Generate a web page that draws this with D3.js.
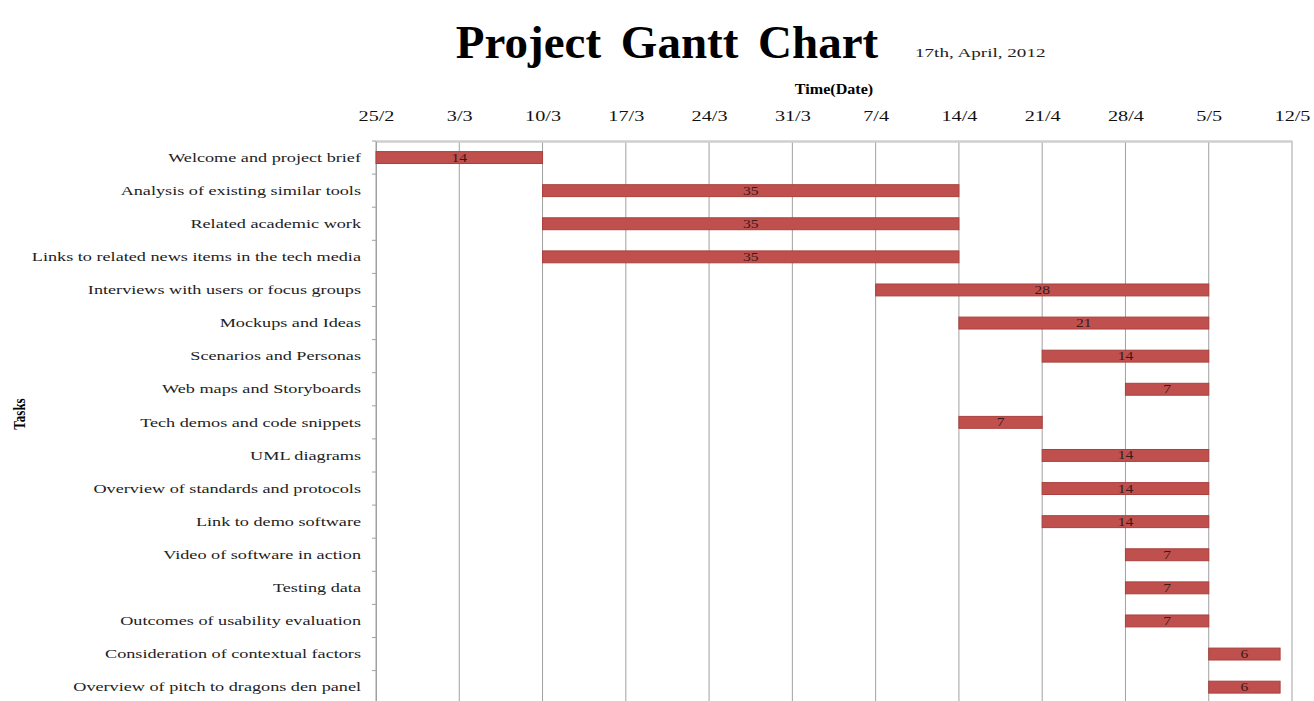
<!DOCTYPE html>
<html>
<head>
<meta charset="utf-8">
<script src="https://cdn.jsdelivr.net/npm/d3@7"></script>
<style>
  body { margin: 0; background: #fff; }
  svg { display: block; font-family: "Liberation Serif", "Times New Roman", serif; }
</style>
</head>
<body>
<div id="area"></div>
<script>
var tasks = [
  "Welcome and project brief",
  "Analysis of existing similar tools",
  "Related academic work",
  "Links to related news items in the tech media",
  "Interviews with users or focus groups",
  "Mockups and Ideas",
  "Scenarios and Personas",
  "Web maps and Storyboards",
  "Tech demos and code snippets",
  "UML diagrams",
  "Overview of standards and protocols",
  "Link to demo software",
  "Video of software in action",
  "Testing data",
  "Outcomes of usability evaluation",
  "Consideration of contextual factors",
  "Overview of pitch to dragons den panel"
];
var startDates = [
  "2012-02-25", "2012-03-10", "2012-03-10", "2012-03-10", "2012-04-07",
  "2012-04-14", "2012-04-21", "2012-04-28", "2012-04-14", "2012-04-21",
  "2012-04-21", "2012-04-21", "2012-04-28", "2012-04-28", "2012-04-28",
  "2012-05-05", "2012-05-05"
];
var durations = [14, 35, 35, 35, 28, 21, 14, 7, 7, 14, 14, 14, 7, 7, 7, 6, 6];
var tickDates = [
  "2012-02-25", "2012-03-03", "2012-03-10", "2012-03-17", "2012-03-24", "2012-03-31",
  "2012-04-07", "2012-04-14", "2012-04-21", "2012-04-28", "2012-05-05", "2012-05-12"
];

var width = 1314, height = 701;
var plotLeft = 376, plotRight = 1292, plotTop = 141, rowStep = 33.1;
var stretch = 1.4; // the original glyphs are drawn wide
var parse = d3.utcParse("%Y-%m-%d");
var fmt = d3.utcFormat("%-d/%-m");
var DAY = 86400000;

var rows = tasks.map(function (t, i) {
  var s = parse(startDates[i]);
  return { task: t, start: s, end: new Date(s.getTime() + durations[i] * DAY), dur: durations[i] };
});
var ticks = tickDates.map(parse);

var x = d3.scaleUtc()
  .domain([ticks[0], ticks[ticks.length - 1]])
  .range([plotLeft, plotRight]);
var y = d3.scaleBand()
  .domain(tasks)
  .range([plotTop, plotTop + tasks.length * rowStep])
  .paddingInner(0.64)
  .paddingOuter(0.32);

var svg = d3.select("#area").append("svg")
  .attr("width", width)
  .attr("height", height);

// title
svg.append("text")
  .attr("x", 667).attr("y", 58)
  .attr("text-anchor", "middle")
  .style("font-size", "47px").style("font-weight", "bold")
  .style("word-spacing", "8px")
  .text("Project Gantt Chart");
svg.append("text")
  .attr("transform", "translate(915,57) scale(1.47,1)")
  .style("font-size", "13px")
  .attr("fill", "#222")
  .text("17th, April, 2012");

svg.append("text")
  .attr("transform", "translate(" + (plotLeft + plotRight) / 2 + ",94) scale(1.15,1)")
  .attr("text-anchor", "middle")
  .style("font-size", "14px").style("font-weight", "bold")
  .text("Time(Date)");

svg.append("text")
  .attr("transform", "translate(25,414) rotate(-90) scale(1,1.35)")
  .attr("text-anchor", "middle")
  .style("font-size", "13px").style("font-weight", "bold")
  .text("Tasks");

// vertical grid
svg.append("g")
  .selectAll("line")
  .data(ticks)
  .enter().append("line")
  .attr("x1", function (d) { return x(d); })
  .attr("x2", function (d) { return x(d); })
  .attr("y1", plotTop).attr("y2", height)
  .attr("stroke", "#a0a0a0").attr("stroke-width", 1);

// top axis
var xAxis = svg.append("g")
  .attr("transform", "translate(0," + plotTop + ")")
  .call(d3.axisTop(x).tickValues(ticks).tickFormat(fmt).tickSize(0).tickPadding(20));
xAxis.select(".domain").attr("stroke", "#cfcfcf").attr("stroke-width", 2.5);
xAxis.selectAll("text")
  .attr("transform", "scale(1.35,1)")
  .style("font-family", "Liberation Serif, serif")
  .style("font-size", "15px")
  .attr("fill", "#111");

// left axis
var yAxis = svg.append("g")
  .attr("transform", "translate(" + plotLeft + ",0)")
  .call(d3.axisLeft(y).tickSize(0).tickPadding(15));
yAxis.select(".domain").attr("stroke", "#a0a0a0");
yAxis.selectAll("text")
  .attr("x", 0)
  .attr("transform", "translate(-15,0) scale(" + stretch + ",1)")
  .style("font-family", "Liberation Serif, serif")
  .style("font-size", "13px")
  .attr("fill", "#222");
svg.append("g")
  .selectAll("line")
  .data(d3.range(tasks.length + 1))
  .enter().append("line")
  .attr("x1", plotLeft - 4).attr("x2", plotLeft)
  .attr("y1", function (i) { return plotTop + i * rowStep; })
  .attr("y2", function (i) { return plotTop + i * rowStep; })
  .attr("stroke", "#a0a0a0");

// bars
var bars = svg.append("g").selectAll("g")
  .data(rows)
  .enter().append("g");
bars.append("rect")
  .attr("x", function (d) { return x(d.start); })
  .attr("y", function (d) { return y(d.task); })
  .attr("width", function (d) { return x(d.end) - x(d.start); })
  .attr("height", y.bandwidth())
  .attr("fill", "#c0504d")
  .attr("stroke", "#a9403d").attr("stroke-width", 1);
bars.append("text")
  .attr("transform", function (d) {
    return "translate(" + (x(d.start) + x(d.end)) / 2 + "," + (y(d.task) + y.bandwidth() / 2 + 4) + ") scale(1.3,1)";
  })
  .attr("text-anchor", "middle")
  .style("font-size", "12px").attr("fill", "#3a1a1a")
  .text(function (d) { return d.dur; });
</script>
</body>
</html>
